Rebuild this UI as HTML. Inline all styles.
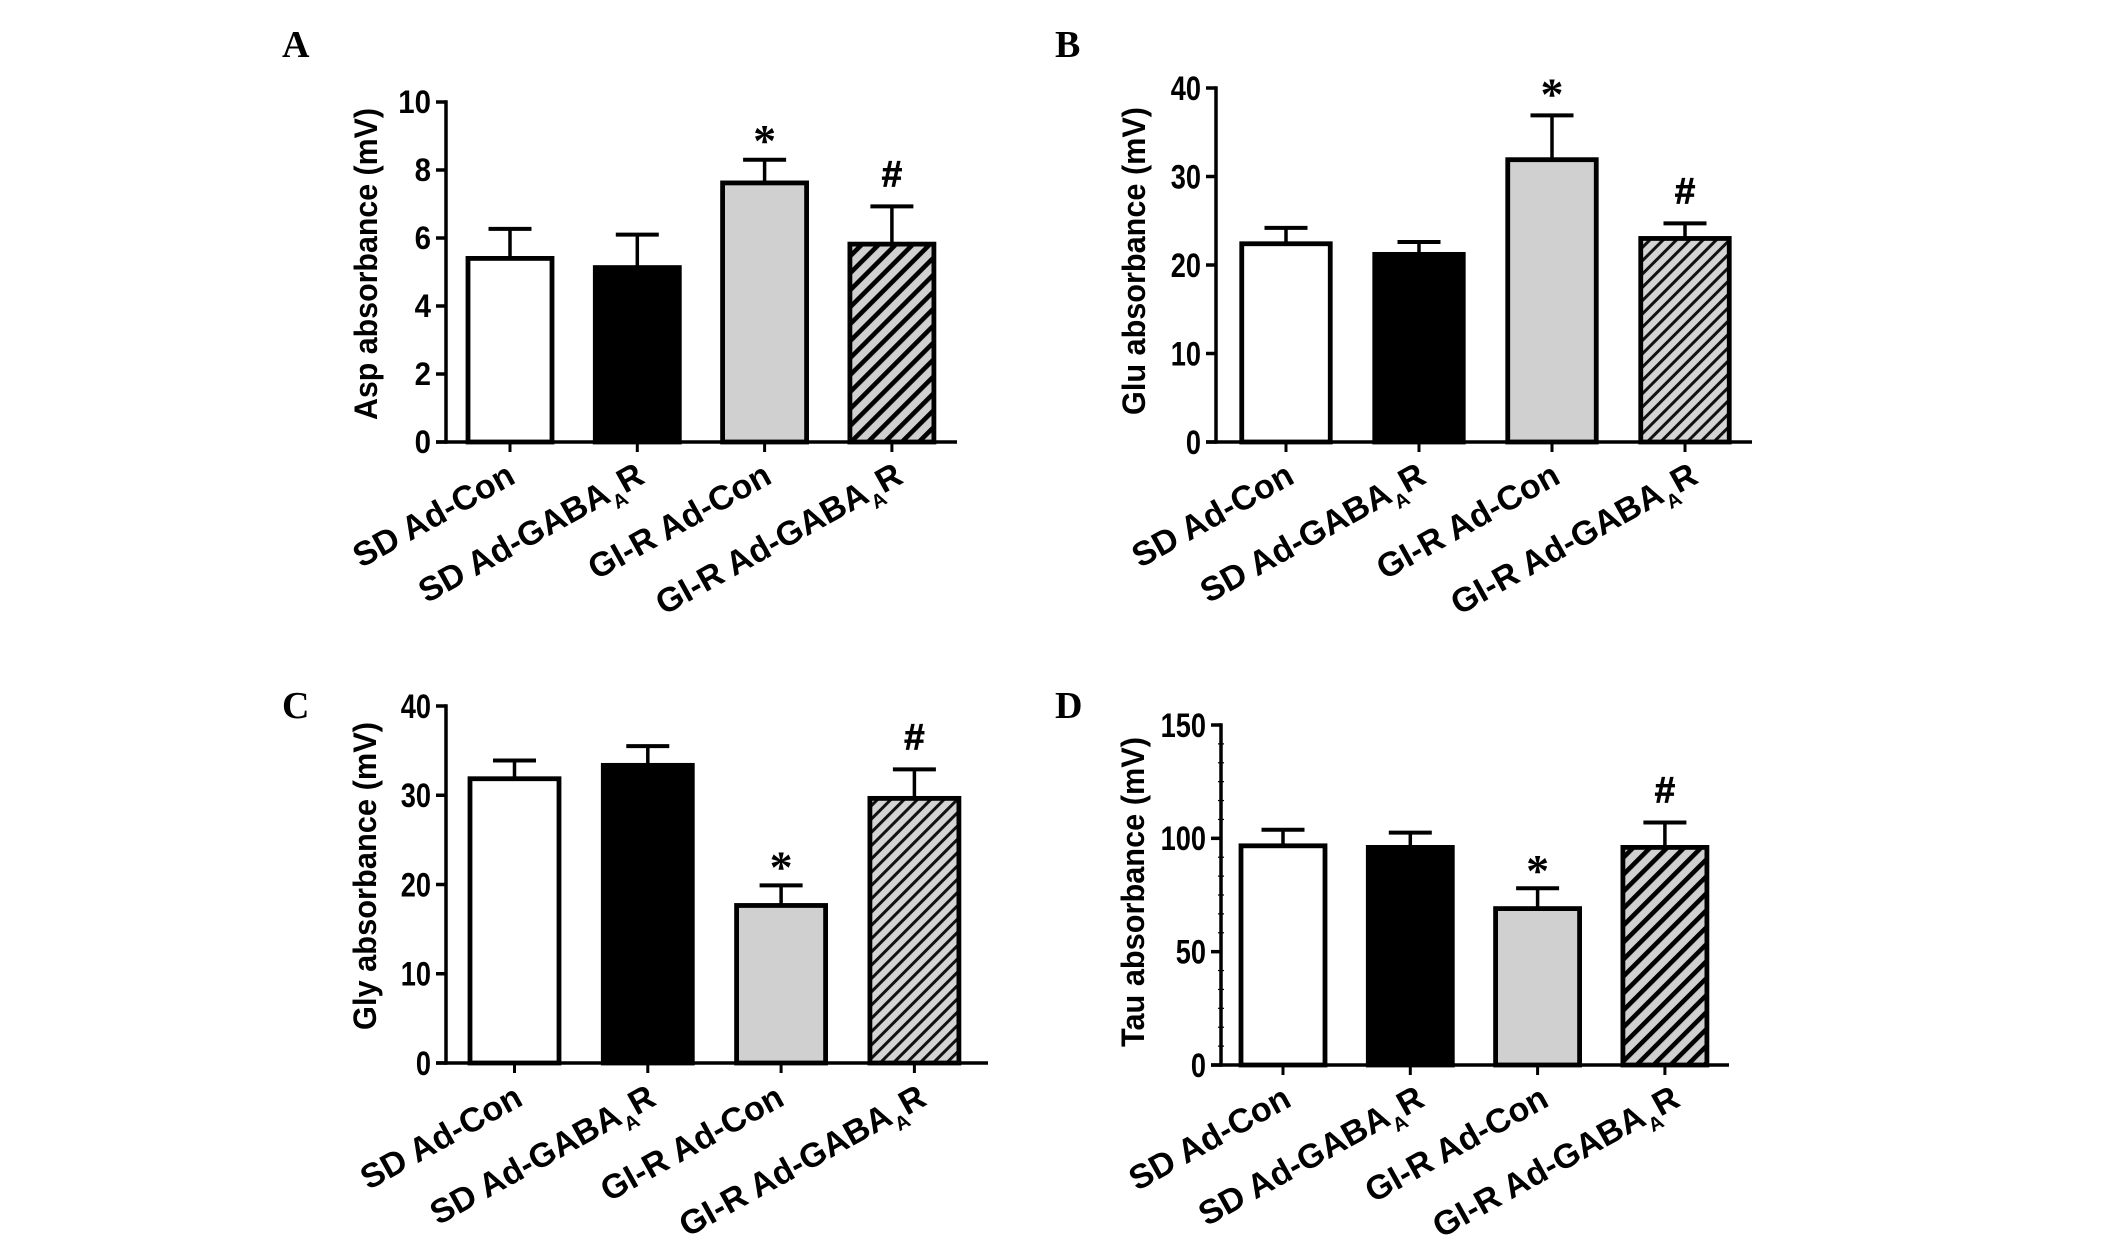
<!DOCTYPE html>
<html>
<head>
<meta charset="utf-8">
<style>
html,body{margin:0;padding:0;background:#fff;}
svg{display:block;}
text{font-family:"Liberation Sans",sans-serif;font-weight:bold;fill:#000;}
.letter{font-family:"Liberation Serif",serif;font-size:38px;}
</style>
</head>
<body>
<svg id="figure" xmlns="http://www.w3.org/2000/svg" width="2126" height="1240" viewBox="0 0 2126 1240">
  <defs>
    <pattern id="hatch-wide" patternUnits="userSpaceOnUse" width="12" height="12" patternTransform="rotate(-45)">
      <rect width="12" height="12" fill="#d0d0d0"></rect>
      <rect width="12" height="4.6" fill="#000"></rect>
    </pattern>
    <pattern id="hatch-fine" patternUnits="userSpaceOnUse" width="9.4" height="9.4" patternTransform="rotate(-45)">
      <rect width="9.4" height="9.4" fill="#d4d4d4"></rect>
      <rect width="9.4" height="3" fill="#111"></rect>
    </pattern>
  </defs>
  <rect width="2126" height="1240" fill="#fff"></rect>
  <text class="letter" x="282" y="57">A</text>
  <text class="letter" x="1055" y="57">B</text>
  <text class="letter" x="282" y="718">C</text>
  <text class="letter" x="1055" y="718">D</text>
</svg>
<script>
const categories = ["SD Ad-Con", "SD Ad-GABAAR", "GI-R Ad-Con", "GI-R Ad-GABAAR"];
const marks = ["", "", "*", "#"];

const aspMeans = [5.4, 5.13, 7.62, 5.82];
const aspUpper = [6.27, 6.1, 8.3, 6.93];
const aspTicks = [0, 2, 4, 6, 8, 10];

const gluMeans = [22.4, 21.2, 31.9, 23];
const gluUpper = [24.2, 22.6, 36.9, 24.7];
const gluTicks = [0, 10, 20, 30, 40];

const glyMeans = [31.85, 33.35, 17.65, 29.65];
const glyUpper = [33.9, 35.5, 19.9, 32.9];
const glyTicks = [0, 10, 20, 30, 40];

const tauMeans = [96.7, 96, 69, 96];
const tauUpper = [103.8, 102.5, 78, 107];
const tauTicks = [0, 50, 100, 150];

const NS = "http://www.w3.org/2000/svg";
const svg = document.getElementById("figure");

function make(tag, parent, attrs) {
  const e = document.createElementNS(NS, tag);
  for (const k in attrs) e.setAttribute(k, attrs[k]);
  parent.appendChild(e);
  return e;
}

function drawPanel(p) {
  const yScale = v => p.y0 - (v / p.yMax) * (p.y0 - p.yTop);
  const xScale = i => p.x0 + i * p.step;
  const g = make("g", svg, {});
  
  

  p.means.forEach((m, i) => {
    const cx = xScale(i);
    const top = yScale(m);
    const upper = yScale(p.upper[i]);
    const stem = make("line", g, {x1: cx, x2: cx, y1: upper, y2: top, stroke: "#000", "stroke-width": 3.5});
    
    
    const cap = make("line", g, {x1: cx - 21.5, x2: cx + 21.5, y1: upper, y2: upper, stroke: "#000", "stroke-width": 4});
    
    
    const fills = ["#fff", "#000", "#d0d0d0", "url(#" + p.hatch + ")"];
    const w = p.barW;
    const bar = make("rect", g, {x: cx - w / 2, y: top, width: w, height: p.y0 - top, fill: fills[i], stroke: "#000", "stroke-width": 4.8});
    
    
    if (marks[i] === "*") {
      const star = make("text", g, {x: cx, y: upper - 24 + 22 - p.starLift, "text-anchor": "middle", "font-size": 46, style: "font-family:'Liberation Serif',serif"});
      
      
      star.textContent = marks[i];
    }
    if (marks[i] === "#") {
      const hash = make("text", g, {x: cx, y: upper - 33 + 13 - p.hashLift, "text-anchor": "middle", "font-size": 37, stroke: "#000", "stroke-width": 0.7});
      
      
      hash.textContent = marks[i];
    }
    const tick = make("line", g, {x1: cx, x2: cx, y1: p.y0, y2: p.y0 + 10, stroke: "#000", "stroke-width": 3});
    
    
    const label = make("text", g, {"text-anchor": "end", "font-size": p.xFont, transform: "translate(" + (cx + p.xDx + p.labelNudge[i]) + "," + (p.y0 + p.xDy) + ") rotate(-29) scale(" + p.xSx + ",1)"});
    
    
    const name = categories[i];
    if (name.endsWith("AAR")) {
      make("tspan", label, {}).textContent = name.slice(0, -2);
      make("tspan", label, {"font-size": p.xFont * 0.58, dy: 10}).textContent = "A";
      make("tspan", label, {dy: -10}).textContent = "R";
    } else {
      label.textContent = name;
    }
  });

  const yAxis = make("line", g, {x1: p.axisX, x2: p.axisX, y1: p.yTop - 1.7, y2: p.y0 + 1.7, stroke: "#000", "stroke-width": 3.5});
  
  
  const xAxis = make("line", g, {x1: p.axisX - 10, x2: p.xEnd, y1: p.y0, y2: p.y0, stroke: "#000", "stroke-width": 3.5});
  
  

  p.ticks.forEach(t => {
    const y = yScale(t);
    const tk = make("line", g, {x1: p.axisX - 10, x2: p.axisX, y1: y, y2: y, stroke: "#000", "stroke-width": 3.5});
    
    
    const tl = make("text", g, {"text-anchor": "end", "font-size": p.tickFont, transform: "translate(" + (p.axisX - 15) + "," + (y + p.tickFont * 0.35) + ") scale(" + p.tickSx + ",1)"});
    
    
    tl.textContent = t;
  });

  if (p.minor) {
    for (let k = 0; k < p.ticks.length - 1; k++) {
      for (let s = 1; s < p.minor; s++) {
        const y = yScale(p.ticks[k] + (p.ticks[k + 1] - p.ticks[k]) * s / p.minor);
        const mt = make("line", g, {x1: p.axisX - 3, x2: p.axisX + 3, y1: y, y2: y, stroke: "#000", "stroke-width": 1.2});
        
        
      }
    }
  }

  const title = make("text", g, {"text-anchor": "middle", "font-size": 32, textLength: p.titleLen, lengthAdjust: "spacingAndGlyphs", transform: "translate(" + p.titleX + "," + p.titleY + ") rotate(-90)"});
  
  
  title.textContent = p.title;
}

drawPanel({key: "a", means: aspMeans, upper: aspUpper, ticks: aspTicks, yMax: 10, axisX: 446, y0: 442, yTop: 102, xEnd: 957, x0: 510, step: 127.3, barW: 84, hatch: "hatch-wide", title: "Asp absorbance (mV)", titleX: 377, titleY: 264, titleLen: 312, tickFont: 32, tickSx: 0.92, xFont: 34, xSx: 1, xDx: 9, xDy: 40, labelNudge: [-2, 0, 0, 4], starLift: 2, hashLift: 0});
drawPanel({key: "b", means: gluMeans, upper: gluUpper, ticks: gluTicks, yMax: 40, axisX: 1216, y0: 442, yTop: 88, xEnd: 1752, x0: 1286, step: 133, barW: 88.5, hatch: "hatch-fine", title: "Glu absorbance (mV)", titleX: 1145, titleY: 261, titleLen: 308, tickFont: 34, tickSx: 0.8, xFont: 34, xSx: 1, xDx: 10, xDy: 40, labelNudge: [0, -1, 0, 5], starLift: 4, hashLift: 0});
drawPanel({key: "c", means: glyMeans, upper: glyUpper, ticks: glyTicks, yMax: 40, axisX: 446, y0: 1063, yTop: 706, xEnd: 988, x0: 514.5, step: 133.3, barW: 89, hatch: "hatch-fine", title: "Gly absorbance (mV)", titleX: 376, titleY: 876, titleLen: 308, tickFont: 34, tickSx: 0.8, xFont: 34, xSx: 1, xDx: 9, xDy: 41, labelNudge: [1, 1, -4, 5], starLift: 1, hashLift: 0});
drawPanel({key: "d", means: tauMeans, upper: tauUpper, ticks: tauTicks, yMax: 150, axisX: 1221, y0: 1065, yTop: 725, xEnd: 1729, x0: 1283, step: 127.3, barW: 84, hatch: "hatch-wide", title: "Tau absorbance (mV)", titleX: 1144, titleY: 892, titleLen: 310, tickFont: 34, tickSx: 0.8, xFont: 34, xSx: 1, xDx: 9, xDy: 40, labelNudge: [1, 7, 4, 8], starLift: 0, hashLift: 0, minor: 6});
</script>
</body>
</html>
